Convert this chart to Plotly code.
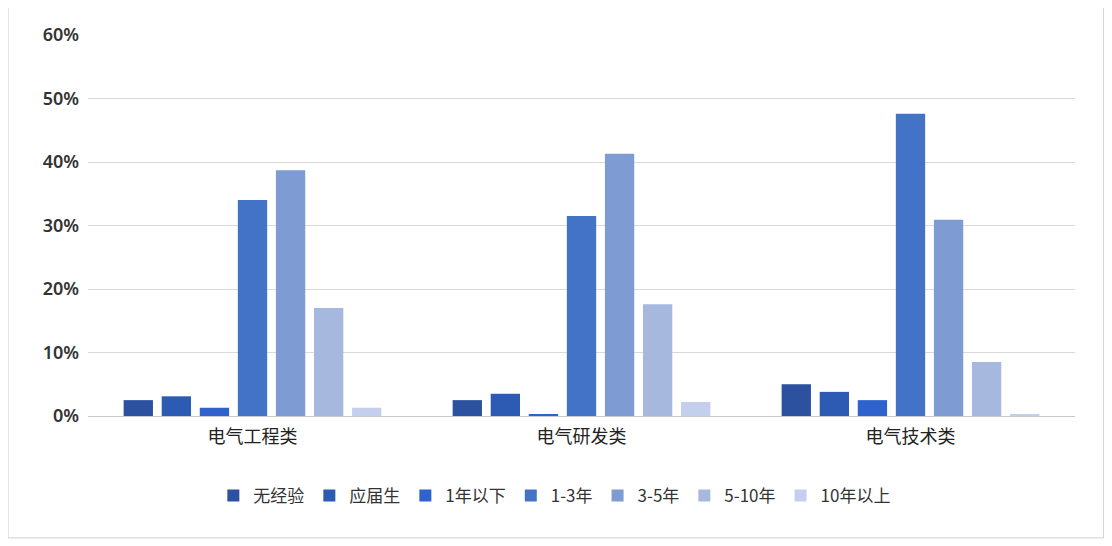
import plotly.graph_objects as go

categories = ["电气工程类", "电气研发类", "电气技术类"]
series_names = ["无经验", "应届生", "1年以下", "1-3年", "3-5年", "5-10年", "10年以上"]
no_exp = [0.025, 0.025, 0.050]
fresh_grad = [0.031, 0.035, 0.038]
under_1y = [0.013, 0.003, 0.025]
y1_3 = [0.340, 0.315, 0.476]
y3_5 = [0.387, 0.413, 0.309]
y5_10 = [0.170, 0.176, 0.085]
over_10y = [0.013, 0.022, 0.002]
series_values = [no_exp, fresh_grad, under_1y, y1_3, y3_5, y5_10, over_10y]
y_ticks = [0, 0.1, 0.2, 0.3, 0.4, 0.5, 0.6]

colors = ["#2B519F", "#2D5AB3", "#2F62CC", "#4373C6", "#7F9BD4", "#A7B8DF", "#C4CFEE"]

font_family = "Noto Sans CJK SC, Noto Sans, sans-serif"

fig = go.Figure()
for name, vals, c in zip(series_names, series_values, colors):
    fig.add_trace(go.Bar(x=categories, y=vals, name=name, marker_color=c,
                         marker_line_width=0, hoverinfo="x+y+name"))

fig.update_layout(
    width=1104, height=538,
    margin=dict(l=80, r=37, t=27, b=130),
    paper_bgcolor="white", plot_bgcolor="white",
    barmode="group", bargap=0.19, bargroupgap=0.23,
    font=dict(family=font_family, color="#333333"),
    legend=dict(orientation="h", x=0.473, xanchor="center", y=-0.21, yanchor="middle",
                font=dict(size=17, color="#333333"), itemwidth=30,
                tracegroupgap=0, itemclick=False),
    showlegend=True,
)
fig.update_yaxes(range=[0, 0.6], tickvals=y_ticks, tickformat=".0%",
                 showgrid=True, gridcolor="#D9D9D9", gridwidth=1,
                 zeroline=False, showline=False,
                 tickfont=dict(size=18, color="#333333", family="Noto Sans, sans-serif", weight=600),
                 ticklabelstandoff=8)
fig.update_xaxes(showline=True, linecolor="#C8C8C8", linewidth=1,
                 tickfont=dict(size=18, color="#222222"), ticks="",
                 ticklabelstandoff=4)

fig.add_shape(type="rect", xref="paper", yref="paper",
              x0=-0.081, x1=1.029, y0=-0.320, y1=1.0735,
              line=dict(color="#D0D0D0", width=1), fillcolor="rgba(0,0,0,0)", layer="below")

fig.write_html("out.html")
